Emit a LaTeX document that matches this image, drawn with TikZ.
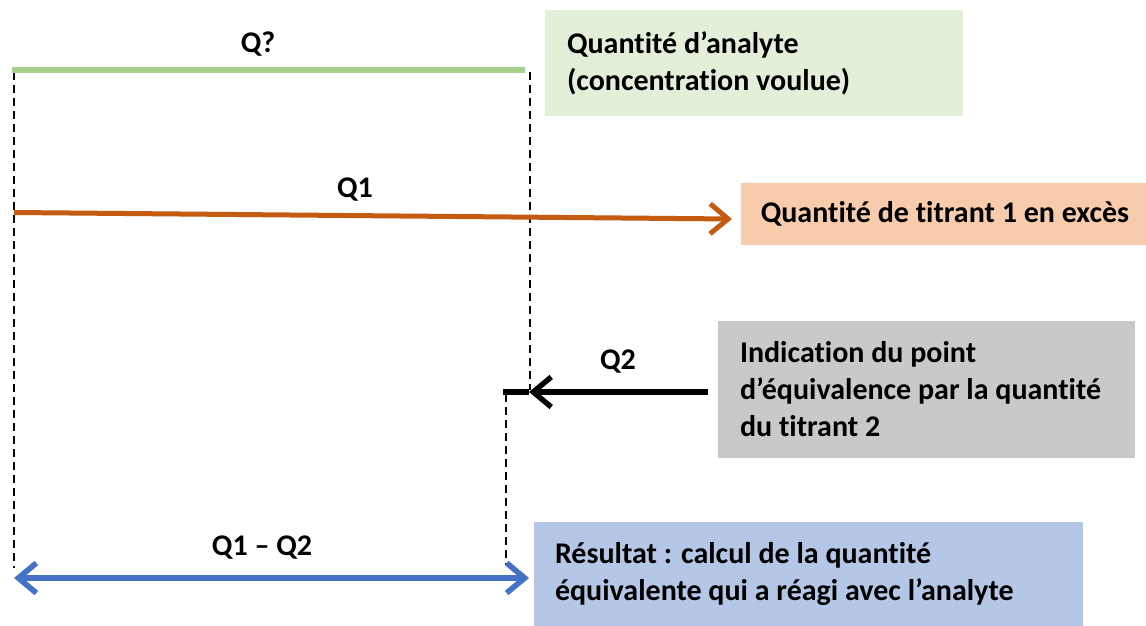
\documentclass[tikz,border=0pt]{standalone}
\usepackage{fontspec}
\setmainfont[Ligatures=NoCommon]{Carlito}
\usetikzlibrary{arrows.meta}
\definecolor{gline}{HTML}{A9D18E}
\definecolor{gbox}{HTML}{E2F0D9}
\definecolor{oline}{HTML}{C55A11}
\definecolor{obox}{HTML}{F8CBAD}
\definecolor{graybox}{HTML}{C9C9C9}
\definecolor{bline}{HTML}{4472C4}
\definecolor{bbox}{HTML}{B4C7E7}
\tikzset{
  lbl/.style={font=\bfseries\fontsize{15}{18.5}\selectfont, inner sep=0pt},
  infobox/.style={font=\bfseries\fontsize{15}{18.5}\selectfont, inner xsep=11pt, inner ysep=0pt, align=flush left},
  guide/.style={black, line width=0.8pt, dash pattern=on 4pt off 2.5pt},
  barb/.tip={Straight Barb[length=9pt,width=15pt]},
}
\begin{document}
\begin{tikzpicture}[x=0.5pt,y=-0.5pt]
\useasboundingbox (0,0) rectangle (1146,626);
% boxes
\node[infobox, fill=gbox, minimum width=209pt, minimum height=53pt, text width=187pt] (gb) at (754,63) {Quantité d’analyte\\(concentration voulue)};
\node[infobox, fill=obox, minimum width=202.5pt, minimum height=31pt, inner xsep=0pt, anchor=west] (ob) at (741,214) {\hspace*{1pt}Quantité de titrant 1 en excès};
\node[infobox, fill=graybox, minimum width=208.5pt, minimum height=68.5pt, text width=186.5pt] (grb) at (926.5,389.5) {Indication du point\\d’équivalence par la quantité\\du titrant 2};
\node[infobox, fill=bbox, minimum width=274.5pt, minimum height=52pt, text width=253.5pt, inner xsep=10.5pt] (bb) at (808.5,574) {Résultat : calcul de la quantité\\équivalente qui a réagi avec l’analyte};
% coordinates
\coordinate (gL) at (12,70);
\coordinate (gR) at (525,70);
\coordinate (oL) at (14,212.5);
\coordinate (oR) at (732,219);
\coordinate (kR) at (708,392);
\coordinate (kT) at (529,392);
\coordinate (kL) at (503,392);
\coordinate (bL) at (14,578);
\coordinate (bR) at (529,578);
\coordinate (d1t) at (14,72);
\coordinate (d1b) at (14,568);
\coordinate (d2t) at (530,72);
\coordinate (d2b) at (530,390);
\coordinate (d3t) at (506,394);
\coordinate (d3b) at (506,565);
% guides
\draw[guide] (d1t) -- (d1b);
\draw[guide] (d2t) -- (d2b);
\draw[guide] (d3t) -- (d3b);
% lines
\draw[gline, line width=2.6pt] (gL) -- (gR);
\draw[oline, line width=2.5pt, -barb] (oL) -- (oR);
\draw[black, line width=2.7pt] (kT) -- (kL);
\draw[black, line width=2.7pt, -barb] (kR) -- (kT);
\draw[bline, line width=2.8pt, barb-barb] (bL) -- (bR);
% labels
\node[lbl] (lq) at (258,44) {Q?};
\node[lbl] (l1) at (355,190) {Q1};
\node[lbl] (l2) at (618,362) {Q2};
\node[lbl] (l12) at (262,548) {Q1 – Q2};
\end{tikzpicture}
\end{document}
